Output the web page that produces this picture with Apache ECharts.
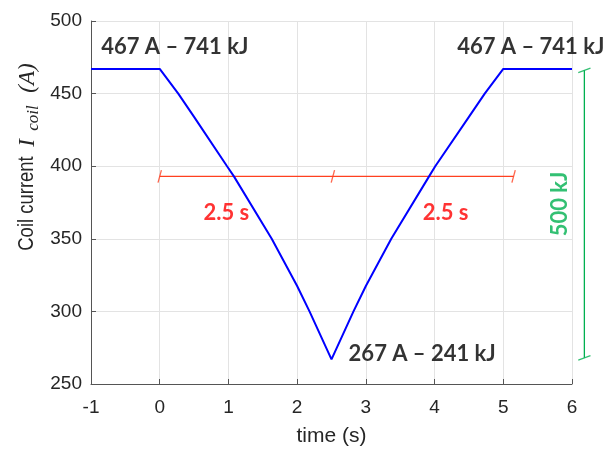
<!DOCTYPE html>
<html><head><meta charset="utf-8">
<script src="https://cdn.jsdelivr.net/npm/echarts@6/dist/echarts.min.js"></script>
<style>html,body{margin:0;padding:0;background:#fff}#c{width:605px;height:452px}</style>
</head><body><div id="c"></div>
<script>
// ---- data ----
const timeS        = [-1, 0, 0.27, 0.5, 0.98, 1.08, 1.63, 2, 2.18, 2.5, 2.82, 3, 3.37, 3.92, 4.01, 4.5, 4.73, 5, 6];
const coilCurrentA = [467, 467, 450, 434, 400, 393, 350, 317.5, 300, 267, 300, 317.5, 350, 393, 400, 434, 450, 467, 467];
const xRange = [-1, 6];
const yRange = [250, 500];
const bracketTimes = [0, 2.52, 5.15];
const bracketLevel = 393;
const energyBarTime = 6.18;
const energyBarCurrents = [466, 268];
const labelTexts = ['467 A – 741 kJ', '467 A – 741 kJ', '267 A – 241 kJ'];
const labelTimes = [0.22, 5.4, 3.82];
const labelCurrents = [482, 482.5, 271];
const durationTexts = ['2.5 s', '2.5 s'];
const durationTimes = [0.97, 4.16];
const durationCurrents = [368];
const energyText = '500 kJ';
const energyTextPos = [5.83, 374];

const chart = echarts.init(document.getElementById('c'));
const curve = timeS.map((t, i) => [t, coilCurrentA[i]]);
const bracketLine = [[bracketTimes[0], bracketLevel], [bracketTimes[2], bracketLevel]];
const bracketTicks = bracketTimes.map(t => [t, bracketLevel]);
const energyTicks = energyBarCurrents.map(v => [energyBarTime, v]);
const boldFont = {fontFamily: 'Lato', fontWeight: 'bold', fontSize: 22};
const axisGrey = '#555555';
const textGrey = '#262626';

const option = {
  animation: false,
  backgroundColor: '#fff',
  grid: {left: 91, right: 33, top: 21, bottom: 64, containLabel: false},
  xAxis: {
    type: 'value', min: xRange[0], max: xRange[1], interval: 1,
    name: 'time (s)', nameLocation: 'middle', nameGap: 42,
    nameTextStyle: {fontFamily: 'Liberation Sans', fontSize: 21, color: textGrey},
    axisLine: {show: true, onZero: false, lineStyle: {color: axisGrey, width: 1}},
    axisTick: {show: true, inside: true, length: 5, lineStyle: {color: axisGrey}},
    axisLabel: {fontFamily: 'Liberation Sans', fontSize: 19, color: textGrey, margin: 14},
    splitLine: {show: true, lineStyle: {color: '#e3e3e3', width: 1}}
  },
  yAxis: {
    type: 'value', min: yRange[0], max: yRange[1], interval: 50,
    axisLine: {show: true, onZero: false, lineStyle: {color: axisGrey, width: 1}},
    axisTick: {show: true, inside: true, length: 5, lineStyle: {color: axisGrey}},
    axisLabel: {fontFamily: 'Liberation Sans', fontSize: 19, color: textGrey, margin: 9},
    splitLine: {show: true, lineStyle: {color: '#e3e3e3', width: 1}}
  },
  graphic: [
    {type: 'text', x: 27, y: 203.5, rotation: Math.PI / 2, scaleX: 0.84,
      style: {text: 'Coil current', align: 'center', verticalAlign: 'middle',
        fontFamily: 'Liberation Sans', fontSize: 22, fill: textGrey}},
    {type: 'text', x: 28, y: 143, rotation: Math.PI / 2,
      style: {text: 'I', align: 'center', verticalAlign: 'middle',
        fontFamily: 'Liberation Serif', fontStyle: 'italic', fontSize: 23, fill: textGrey}},
    {type: 'text', x: 34, y: 118, rotation: Math.PI / 2,
      style: {text: 'coil', align: 'center', verticalAlign: 'middle',
        fontFamily: 'Liberation Serif', fontStyle: 'italic', fontSize: 17, fill: textGrey}},
    {type: 'text', x: 28, y: 78, rotation: Math.PI / 2,
      style: {text: '(A)', align: 'center', verticalAlign: 'middle',
        fontFamily: 'Liberation Serif', fontStyle: 'italic', fontSize: 23, fill: textGrey}}
  ],
  series: [
    {type: 'line', data: curve, symbol: 'none', lineStyle: {color: '#0000ff', width: 2}, z: 5},
    {type: 'line', data: bracketLine, symbol: 'none', lineStyle: {color: '#ff4020', width: 1.3}, z: 4},
    {type: 'scatter', data: bracketTicks, symbol: 'rect', symbolSize: [1.3, 13], symbolRotate: -15,
      itemStyle: {color: '#ff4020'}, z: 4},
    {type: 'custom', clip: false, z: 4,
      data: [[energyBarTime, energyBarCurrents[0], energyBarCurrents[1]]],
      renderItem: (params, api) => {
        const p1 = api.coord([api.value(0), api.value(1)]);
        const p2 = api.coord([api.value(0), api.value(2)]);
        return {type: 'line', shape: {x1: p1[0], y1: p1[1], x2: p2[0], y2: p2[1]},
          style: {stroke: '#00b050', lineWidth: 1.3}};
      }},
    {type: 'scatter', data: energyTicks, symbol: 'rect', symbolSize: [13, 1.3], symbolRotate: 20, clip: false,
      itemStyle: {color: '#00b050'}, z: 4},
    {type: 'scatter', symbolSize: 0, clip: false, silent: true,
      data: labelTexts.map((s, i) => ({value: [labelTimes[i], labelCurrents[i]], name: s})),
      label: {show: true, position: 'inside', formatter: p => p.name, color: '#000', ...boldFont}, z: 6},
    {type: 'scatter', symbolSize: 0, clip: false, silent: true,
      data: durationTexts.map((s, i) => ({value: [durationTimes[i], durationCurrents[0]], name: s})),
      label: {show: true, position: 'inside', formatter: p => p.name, color: '#ff0000', ...boldFont}, z: 6},
    {type: 'scatter', symbolSize: 0, clip: false, silent: true,
      data: [{value: energyTextPos, name: energyText}],
      label: {show: true, position: 'inside', rotate: 90, formatter: p => p.name, color: '#00b050', ...boldFont}, z: 6}
  ]
};
chart.setOption(option);
</script></body></html>
